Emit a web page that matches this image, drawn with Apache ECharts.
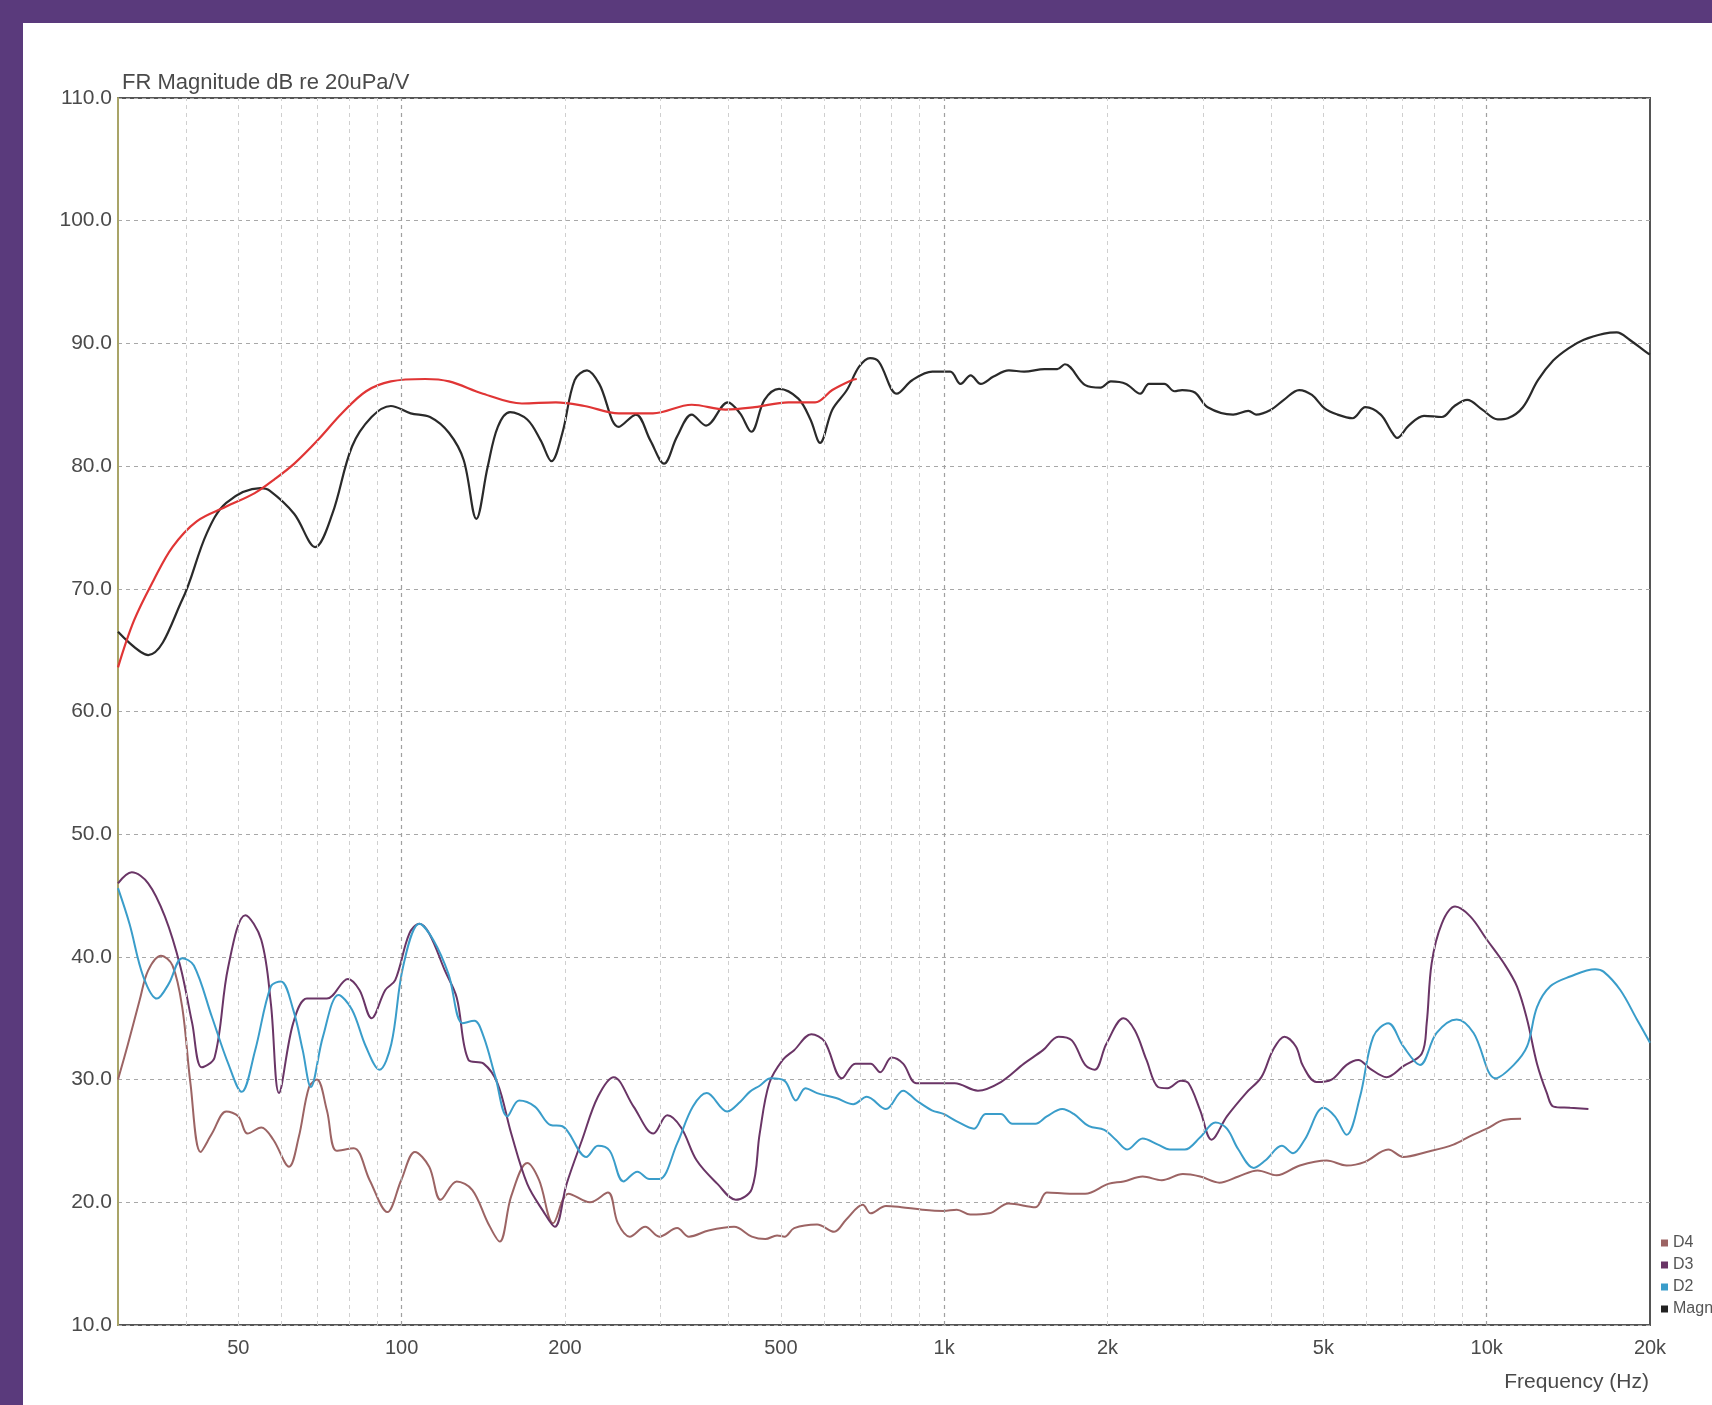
<!DOCTYPE html>
<html>
<head>
<meta charset="utf-8">
<script src="https://cdn.jsdelivr.net/npm/echarts@6/dist/echarts.min.js"></script>
<style>
html,body{margin:0;padding:0;background:#fff;}
#chart{width:1712px;height:1405px;}
</style>
</head>
<body>
<div id="chart"></div>
<script>
// ---- data (frequency in Hz, level in dB) ----
const magFreq = [30,34.1,39.4,43.7,47.5,54.9,57.1,63.4,69.3,74.5,81,88,95.5,103.9,112.8,122.3,130.1,137.3,144,150.4,158.4,170.4,180.4,188.8,197.8,208.4,219.6,231.3,251.4,270.2,287.3,304.5,321.8,342.5,364,399.2,420.5,441.1,466.4,496.1,538.5,566.9,590.5,622,661.7,697,730,758,818,873,951,1026,1072,1119,1168,1233,1316,1404,1531,1616,1669,1820,1942,2028,2164,2299,2385,2545,2658,2745,2898,3060,3409,3637,3757,4004,4228,4511,4763,5027,5307,5658,5976,6378,6660,6836,7181,7664,8264,8724,9206,9815,10480,10940,11660,12430,13260,14150,15100,16460,17370,18340,19800,20000];
const magDb   = [66.5,64.6,69.1,74.5,77.0,78.2,78.0,76.1,73.4,76.1,81.6,84.0,84.9,84.3,84.0,82.7,80.5,75.7,79.9,83.2,84.4,83.8,82.1,80.4,82.7,87.0,87.8,86.7,83.2,84.2,82.1,80.2,82.4,84.2,83.3,85.2,84.3,82.8,85.4,86.3,85.5,83.8,81.9,84.6,86.2,88.1,88.8,88.5,85.9,87.0,87.7,87.7,86.7,87.4,86.7,87.3,87.8,87.7,87.9,87.9,88.3,86.6,86.4,86.9,86.7,85.9,86.7,86.7,86.1,86.2,86.0,84.8,84.2,84.5,84.2,84.6,85.4,86.2,85.8,84.7,84.2,83.9,84.8,84.2,82.9,82.3,83.3,84.1,84.0,84.9,85.4,84.6,83.8,83.9,84.8,87.0,88.6,89.6,90.3,90.8,90.9,90.3,89.2,89.1];

const redFreq = [30,32.1,34.9,37.8,41.9,47.5,53.6,58.2,63.4,70,77.6,86,95.5,110.5,122.3,141.2,166.6,192.4,217.3,251.4,290.5,342.5,395.4,447.5,516.2,578.2,622,675.3,690];
const redDb   = [63.6,67.4,70.7,73.4,75.5,76.7,77.8,78.9,80.2,82.1,84.3,86.1,86.9,87.1,86.9,85.9,85.1,85.2,84.9,84.3,84.3,85.0,84.6,84.8,85.2,85.2,86.2,87.0,87.1];

const d2Freq = [30,31.5,33.4,35.4,37.2,39.4,41.4,44.7,47.9,50.7,53.7,57.4,59.9,63.1,65.7,68,71.6,76.5,81,85.9,91,95.7,100.6,107.8,114.3,122,129.5,136.2,141.6,148.9,156.6,164.6,176,188.1,197.8,219,230,241.8,256.4,272,286.1,298.6,322,344.2,365.1,398,421,438,457,479,508,533,555,583,632,680,720,781,840,889,949,997,1055,1135,1192,1272,1336,1473,1546,1650,1733,1849,1973,2072,2176,2322,2478,2604,2777,2964,3162,3320,3486,3721,3907,4192,4396,4618,5000,5250,5519,5841,6181,6586,7021,7535,8085,8804,9459,10380,11220,11870,12380,13100,14250,15850,16420,17630,18920,20000];
const d2Db   = [45.6,42.7,38.4,36.6,37.8,39.9,39.3,35.1,31.3,29.0,32.4,37.6,38.0,35.7,32.4,29.4,33.5,36.9,35.7,32.7,30.8,32.9,39.2,42.7,41.4,38.6,34.6,34.8,33.5,30.2,27.0,28.3,27.8,26.3,26.2,23.7,24.6,24.2,21.7,22.5,21.9,21.9,24.8,27.8,28.9,27.4,28.2,29.0,29.5,30.1,29.9,28.3,29.3,28.9,28.5,28.0,28.6,27.6,29.1,28.3,27.5,27.2,26.6,26.0,27.2,27.2,26.4,26.4,27.0,27.6,27.2,26.2,25.9,25.1,24.3,25.2,24.7,24.3,24.3,25.3,26.5,26.0,24.3,22.8,23.4,24.6,24.0,25.1,27.7,27.0,25.5,28.6,33.5,34.6,32.7,31.2,33.8,34.9,33.8,30.1,31.2,32.7,35.9,37.6,38.4,39.0,38.8,37.3,34.9,33.0];

const d3Freq = [30,31.8,34.1,36.6,39.1,41.1,42.8,45.2,47.9,51.5,55.1,57.4,59.4,63.1,66.9,72.8,79.6,83.6,88,93.3,97.3,103.3,107.8,112.4,120.1,126.3,132.8,141.6,150.2,159.2,170.4,182.2,191.5,201.4,215.1,230,246,267.6,291.1,308.7,327.4,349.9,382,413,442,457,476,504,529,569,602,648,686,732,762,800,840,889,981,1046,1154,1272,1403,1521,1624,1719,1819,1894,1990,2141,2247,2360,2478,2580,2732,2822,2964,3111,3320,3601,3843,4036,4238,4449,4586,4855,5176,5519,5800,6094,6540,7021,7589,7752,7918,8262,8743,9325,10010,10750,11370,11870,12380,12910,13280,14250,15400];
const d3Db   = [46.0,46.9,46.0,43.3,39.2,34.6,31.0,31.8,39.2,43.4,41.4,36.2,28.9,34.6,36.6,36.6,38.2,37.3,35.0,37.3,38.1,41.9,42.7,41.9,38.9,36.7,31.6,31.3,29.7,25.6,21.5,19.3,18.0,21.5,25.1,28.6,30.2,27.8,25.6,27.1,26.1,23.4,21.5,20.2,21.1,25.6,29.7,31.6,32.4,33.7,33.1,30.1,31.3,31.3,30.6,31.8,31.3,29.7,29.7,29.7,29.1,29.8,31.3,32.4,33.5,33.2,31.2,30.8,32.9,35.0,34.0,31.6,29.4,29.3,29.9,29.7,27.5,25.1,27.0,28.9,30.2,32.4,33.5,32.7,31.1,29.8,30.0,31.2,31.6,30.9,30.2,31.1,32.1,34.6,39.5,42.7,44.1,43.3,41.4,39.5,37.6,34.9,31.3,28.9,27.8,27.7,27.6];

const d4Freq = [30,31.3,32.9,34.1,36,37.8,39.4,40.8,42.6,44.7,47.5,50,52,55.1,58,62,64.6,67.5,69.8,72.8,75.9,81.6,87.3,94.1,99.8,105.8,112.4,118,126.3,135,144.3,151.6,159.2,170.4,179.2,190.2,203,222.4,240,250.3,263.2,281.2,298.6,322,338.5,368,410,442,468,492,508,529,583,627,660,708,732,781,834,911,997,1055,1117,1211,1314,1473,1546,1704,1819,2006,2141,2322,2518,2754,2964,3215,3486,3782,4100,4525,5070,5519,5966,6586,7021,7752,8683,9325,10010,10750,11570];
const d4Db   = [30.0,32.9,36.5,38.9,40.1,39.3,35.9,29.7,24.1,25.6,27.4,27.0,25.6,26.1,25.1,22.9,25.3,29.4,30.0,27.5,24.2,24.4,21.8,19.2,21.8,24.1,22.9,20.2,21.7,21.0,18.3,16.8,20.5,23.2,21.8,18.3,20.7,20.0,20.8,18.3,17.2,18.0,17.2,17.9,17.2,17.7,18.0,17.2,17.0,17.3,17.2,17.9,18.2,17.6,18.6,19.8,19.1,19.7,19.6,19.4,19.3,19.4,19.0,19.1,19.9,19.6,20.8,20.7,20.7,21.5,21.7,22.1,21.8,22.3,22.1,21.6,22.1,22.6,22.2,23.0,23.4,23.0,23.3,24.3,23.7,24.1,24.7,25.4,26.0,26.7,26.8];

// axis labels / gridlines (Hz)
const xTickLabels = [50,100,200,500,1000,2000,5000,10000,20000];
const minorGridFreqs = [40,50,60,70,80,90,200,300,400,500,600,700,800,900,2000,3000,4000,5000,6000,7000,8000,9000];
const majorGridFreqs = [100,1000,10000];
const yTicks = [10,20,30,40,50,60,70,80,90,100,110];

function zip(f, v){ return f.map((x,i)=>[x, v[i]]); }

const chart = echarts.init(document.getElementById('chart'), null, {renderer:'canvas'});
const FONT = '"Liberation Sans", Arial, sans-serif';
const lineCommon = {type:'line', showSymbol:false, symbol:'none', smooth:0.35, animation:false, silent:true};

chart.setOption({
  animation:false,
  backgroundColor:'#ffffff',
  graphic:[
    {type:'rect', left:0, top:0, shape:{width:1712, height:23}, style:{fill:'#5a3a7c'}, z:100},
    {type:'rect', left:0, top:0, shape:{width:23, height:1405}, style:{fill:'#5a3a7c'}, z:100}
  ],
  title:[
    {text:'FR Magnitude dB re 20uPa/V', left:117, top:67,
     textStyle:{fontFamily:FONT, fontSize:22, fontWeight:'normal', color:'#4a4a4a'}},
    {text:'Frequency (Hz)', right:58, top:1367,
     textStyle:{fontFamily:FONT, fontSize:21, fontWeight:'normal', color:'#4a4a4a'}}
  ],
  legend:{
    orient:'vertical', left:1656, top:1230, icon:'rect', itemWidth:7, itemHeight:7, itemGap:6,
    data:['D4','D3','D2','Magnitude'],
    textStyle:{fontFamily:FONT, fontSize:16, color:'#555'},
    selectedMode:false
  },
  grid:{left:118, right:62, top:98, bottom:80, show:true, borderColor:'#555', borderWidth:2, backgroundColor:'#fff'},
  xAxis:{
    type:'log', logBase:10, min:30, max:20000,
    axisLine:{show:false}, axisTick:{show:false},
    splitLine:{show:false}, minorSplitLine:{show:false},
    axisLabel:{
      customValues:xTickLabels, margin:13,
      fontFamily:FONT, fontSize:20, color:'#4a4a4a',
      formatter:function(v){ v=Math.round(v); return v>=1000 ? (v/1000)+'k' : String(v); }
    }
  },
  yAxis:{
    type:'value', min:yTicks[0], max:yTicks[yTicks.length-1], interval:10,
    axisLine:{show:true, lineStyle:{color:'#a9a468', width:2}},
    axisTick:{show:false},
    splitLine:{show:true, lineStyle:{type:[4,4], color:'#a8a8a8', width:1}},
    axisLabel:{margin:6, fontFamily:FONT, fontSize:21, color:'#4a4a4a',
      formatter:function(v){ return v.toFixed(1); }}
  },
  series:[
    {name:'grid', type:'line', data:[], silent:true, animation:false,
     markLine:{silent:true, symbol:['none','none'], label:{show:false}, animation:false,
       lineStyle:{type:[4,4], color:'#cfcfcf', width:1},
       data:minorGridFreqs.map(f=>({xAxis:f}))}},
    {name:'grid2', type:'line', data:[], silent:true, animation:false,
     markLine:{silent:true, symbol:['none','none'], label:{show:false}, animation:false,
       lineStyle:{type:[4,4], color:'#a0a0a0', width:1.2},
       data:majorGridFreqs.map(f=>({xAxis:f}))}},
    Object.assign({}, lineCommon, {name:'D4', data:zip(d4Freq,d4Db), color:'#9c6464', lineStyle:{color:'#9c6464', width:2}}),
    Object.assign({}, lineCommon, {name:'D3', data:zip(d3Freq,d3Db), color:'#6a3566', lineStyle:{color:'#6a3566', width:2}}),
    Object.assign({}, lineCommon, {name:'D2', data:zip(d2Freq,d2Db), color:'#3a9dca', lineStyle:{color:'#3a9dca', width:2}}),
    Object.assign({}, lineCommon, {name:'Magnitude', data:zip(magFreq,magDb), color:'#222222', lineStyle:{color:'#2a2a2a', width:2.2}}),
    Object.assign({}, lineCommon, {name:'Smoothed', data:zip(redFreq,redDb), color:'#e03535', lineStyle:{color:'#e03535', width:2.2}})
  ]
});
</script>
</body>
</html>
